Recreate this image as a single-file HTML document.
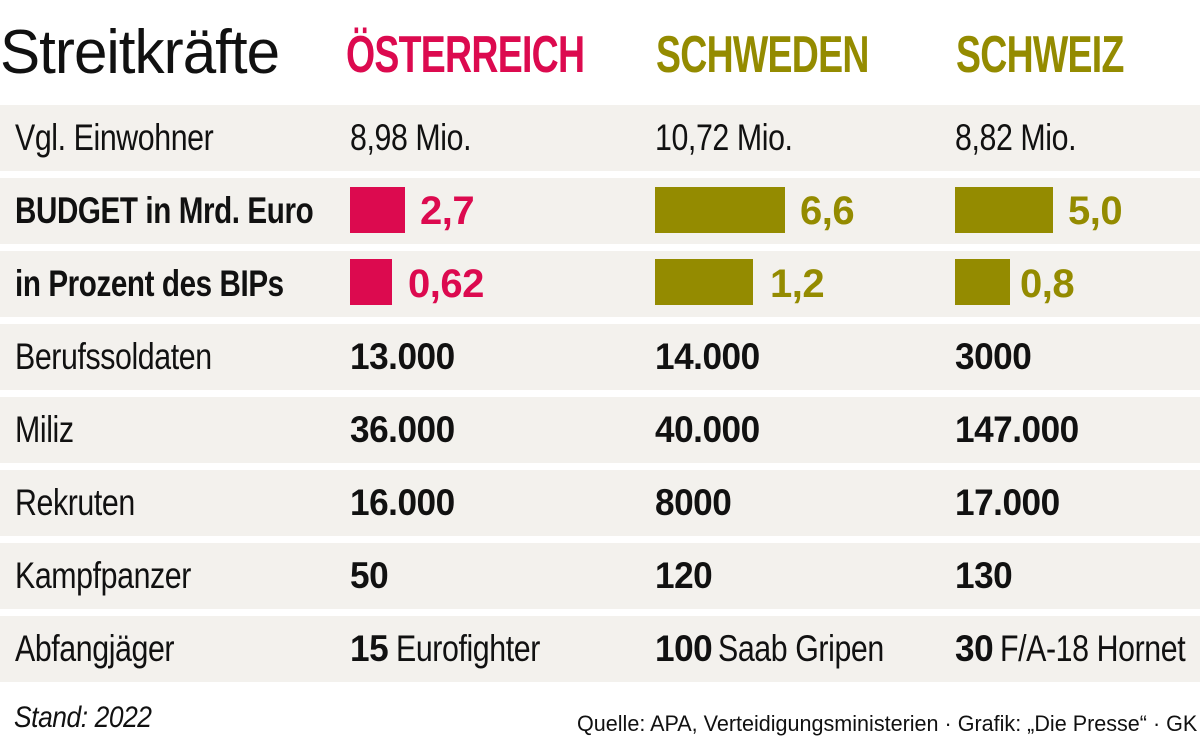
<!DOCTYPE html>
<html><head><meta charset="utf-8"><style>
body{margin:0;width:1200px;height:742px;background:#fff;overflow:hidden;position:relative;font-family:"Liberation Sans Narrow","Liberation Sans",sans-serif;color:#111}
.row{position:absolute;left:0;width:1200px;height:66px;background:#f3f1ed}
.t{position:absolute;font-size:37px;line-height:66px;white-space:nowrap;letter-spacing:-0.5px;transform-origin:left center}
.r{transform:scaleX(.82)}
.bl{transform:scaleX(.8)}
.bn{transform:scaleX(.95)}
.b{font-weight:bold}
.p{color:#dc0a4f}.o{color:#948b00}
.n{font-size:40px;font-weight:bold}
.bar{position:absolute;height:46px}
.h{position:absolute;top:22px;font-size:52px;font-weight:bold;line-height:66px;letter-spacing:-1px;transform:scaleX(.72);transform-origin:left center;white-space:nowrap}
</style></head><body>
<div class="t" style="left:0;top:20px;font-size:62px;letter-spacing:-1px;transform:scaleX(.97)">Streitkräfte</div>
<div class="h p" style="left:346px">ÖSTERREICH</div>
<div class="h o" style="left:656px">SCHWEDEN</div>
<div class="h o" style="left:956px">SCHWEIZ</div>

<div class="row" style="top:105px"></div>
<div class="row" style="top:178px"></div>
<div class="row" style="top:251px"></div>
<div class="row" style="top:324px"></div>
<div class="row" style="top:397px"></div>
<div class="row" style="top:470px"></div>
<div class="row" style="top:543px"></div>
<div class="row" style="top:616px"></div>

<div class="t r" style="left:15px;top:105px">Vgl. Einwohner</div>
<div class="t r" style="left:350px;top:105px">8,98 Mio.</div>
<div class="t r" style="left:655px;top:105px">10,72 Mio.</div>
<div class="t r" style="left:955px;top:105px">8,82 Mio.</div>

<div class="t b bl" style="left:15px;top:178px">BUDGET in Mrd. Euro</div>
<div class="bar" style="left:350px;top:187px;width:55px;background:#dc0a4f"></div>
<div class="t n p" style="left:420px;top:178px">2,7</div>
<div class="bar" style="left:655px;top:187px;width:130px;background:#948b00"></div>
<div class="t n o" style="left:800px;top:178px">6,6</div>
<div class="bar" style="left:955px;top:187px;width:98px;background:#948b00"></div>
<div class="t n o" style="left:1068px;top:178px">5,0</div>

<div class="t b bl" style="left:15px;top:251px">in Prozent des BIPs</div>
<div class="bar" style="left:350px;top:259px;width:42px;background:#dc0a4f"></div>
<div class="t n p" style="left:408px;top:251px">0,62</div>
<div class="bar" style="left:655px;top:259px;width:98px;background:#948b00"></div>
<div class="t n o" style="left:770px;top:251px">1,2</div>
<div class="bar" style="left:955px;top:259px;width:55px;background:#948b00"></div>
<div class="t n o" style="left:1020px;top:251px">0,8</div>

<div class="t r" style="left:15px;top:324px">Berufssoldaten</div>
<div class="t b bn" style="left:350px;top:324px">13.000</div>
<div class="t b bn" style="left:655px;top:324px">14.000</div>
<div class="t b bn" style="left:955px;top:324px">3000</div>

<div class="t r" style="left:15px;top:397px">Miliz</div>
<div class="t b bn" style="left:350px;top:397px">36.000</div>
<div class="t b bn" style="left:655px;top:397px">40.000</div>
<div class="t b bn" style="left:955px;top:397px">147.000</div>

<div class="t r" style="left:15px;top:470px">Rekruten</div>
<div class="t b bn" style="left:350px;top:470px">16.000</div>
<div class="t b bn" style="left:655px;top:470px">8000</div>
<div class="t b bn" style="left:955px;top:470px">17.000</div>

<div class="t r" style="left:15px;top:543px">Kampfpanzer</div>
<div class="t b bn" style="left:350px;top:543px">50</div>
<div class="t b bn" style="left:655px;top:543px">120</div>
<div class="t b bn" style="left:955px;top:543px">130</div>

<div class="t r" style="left:15px;top:616px">Abfangjäger</div>
<div class="t b bn" style="left:350px;top:616px">15</div>
<div class="t r" style="left:396px;top:616px">Eurofighter</div>
<div class="t b bn" style="left:655px;top:616px">100</div>
<div class="t r" style="left:718px;top:616px">Saab Gripen</div>
<div class="t b bn" style="left:955px;top:616px">30</div>
<div class="t r" style="left:1000px;top:616px">F/A-18 Hornet</div>

<div class="t" style="left:14px;top:688px;font-size:30px;line-height:60px;font-style:italic;transform:scaleX(.88)">Stand: 2022</div>
<div class="t" style="left:577px;top:698px;font-size:22px;line-height:52px;letter-spacing:0;transform:scaleX(.98)">Quelle: APA, Verteidigungsministerien · Grafik: „Die Presse“ · GK</div>
</body></html>
